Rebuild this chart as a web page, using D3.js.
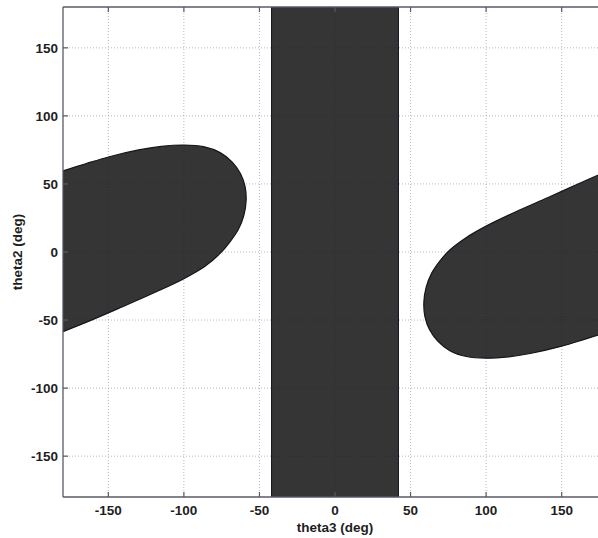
<!DOCTYPE html>
<html>
<head>
<meta charset="utf-8">
<script src="https://cdn.jsdelivr.net/npm/d3@7"></script>
<style>
  html, body { margin: 0; padding: 0; background: #fff; }
  svg { display: block; }
  text { font-family: "Liberation Sans", Arial, Helvetica, sans-serif; fill: #1e1e1e; }
</style>
</head>
<body>
<svg id="chart" width="598" height="538"></svg>
<script>
// ---- data ----
const xTicks = [-150, -100, -50, 0, 50, 100, 150];
const yTicks = [-150, -100, -50, 0, 50, 100, 150];
const xLabel = "theta3 (deg)";
const yLabel = "theta2 (deg)";

// vertical band (theta3 range, covers all theta2)
const bandTheta3 = [-42, 42];

// left region boundary (theta3, theta2)
const leftTheta3 = [-180, -165, -150, -130, -115, -100, -87, -76, -68, -62.5, -59.5, -58.8, -60.3, -64, -69.5, -76, -86, -100, -119, -141, -160, -180];
const leftTheta2 = [59.6, 64.8, 69.8, 75, 77.6, 78.6, 77.4, 73, 66, 57.5, 48, 38, 27, 16.5, 7.5, -1, -10.5, -19.6, -29.6, -40.4, -49.5, -58.5];

// right region boundary (theta3, theta2)
const rightTheta3 = [180, 160, 141, 119, 100, 86, 76, 69.5, 64, 60.3, 58.8, 59.5, 62.5, 68, 76, 87, 100, 115, 130, 150, 165, 180];
const rightTheta2 = [59.3, 49.6, 40, 29.2, 19, 10, 1.5, -6.5, -15.5, -26, -37, -47.5, -57, -65.5, -72.5, -76.8, -78, -77, -74.4, -69.2, -64.2, -59];

// ---- layout ----
const svg = d3.select("#chart");
const mLeft = 63, mTop = 7, plotW = 544, plotH = 490;
const x = d3.scaleLinear().domain([-180, 180]).range([mLeft, mLeft + plotW]);
const y = d3.scaleLinear().domain([-180, 180]).range([mTop + plotH, mTop]);

const fillCol = "#353535";
const edgeCol = "#15151f";

svg.append("defs").append("clipPath").attr("id", "clip")
  .append("rect").attr("x", mLeft).attr("y", mTop).attr("width", plotW).attr("height", plotH);

const g = svg.append("g").attr("clip-path", "url(#clip)");

// band
g.append("rect")
  .attr("x", x(bandTheta3[0]))
  .attr("y", mTop)
  .attr("width", x(bandTheta3[1]) - x(bandTheta3[0]))
  .attr("height", plotH)
  .attr("fill", fillCol)
  .attr("stroke", edgeCol)
  .attr("stroke-width", 1);

const line = d3.line().x(d => x(d[0])).y(d => y(d[1])).curve(d3.curveCatmullRom.alpha(0.5));

function region(xs, ys) {
  const pts = xs.map((v, i) => [v, ys[i]]);
  g.append("path")
    .attr("d", line(pts) + "Z")
    .attr("fill", fillCol)
    .attr("stroke", edgeCol)
    .attr("stroke-width", 1.2);
}
region(leftTheta3, leftTheta2);
region(rightTheta3, rightTheta2);

// grid (drawn on top, semi-transparent dotted)
const grid = svg.append("g").attr("clip-path", "url(#clip)");
xTicks.forEach(t => {
  grid.append("line")
    .attr("x1", x(t)).attr("x2", x(t)).attr("y1", mTop).attr("y2", mTop + plotH)
    .attr("stroke", "rgba(20,20,70,0.30)").attr("stroke-width", 1)
    .attr("stroke-dasharray", "1,2");
});
yTicks.forEach(t => {
  grid.append("line")
    .attr("x1", mLeft).attr("x2", mLeft + plotW).attr("y1", y(t)).attr("y2", y(t))
    .attr("stroke", "rgba(20,20,70,0.30)").attr("stroke-width", 1)
    .attr("stroke-dasharray", "1,2");
});

// frame
const frameCol = "#5a5a66";
svg.append("line").attr("x1", mLeft).attr("x2", mLeft + plotW).attr("y1", mTop).attr("y2", mTop).attr("stroke", frameCol).attr("stroke-width", 1.3);
svg.append("line").attr("x1", mLeft).attr("x2", mLeft + plotW).attr("y1", mTop + plotH).attr("y2", mTop + plotH).attr("stroke", frameCol).attr("stroke-width", 1.3);
svg.append("line").attr("x1", mLeft).attr("x2", mLeft).attr("y1", mTop).attr("y2", mTop + plotH).attr("stroke", frameCol).attr("stroke-width", 1.3);
svg.append("line").attr("x1", mLeft + plotW).attr("x2", mLeft + plotW).attr("y1", mTop).attr("y2", mTop + plotH).attr("stroke", frameCol).attr("stroke-width", 1.3);

// inward ticks
const tl = 5;
xTicks.forEach(t => {
  svg.append("line").attr("x1", x(t)).attr("x2", x(t)).attr("y1", mTop + plotH).attr("y2", mTop + plotH - tl).attr("stroke", frameCol).attr("stroke-width", 1.2);
  svg.append("line").attr("x1", x(t)).attr("x2", x(t)).attr("y1", mTop).attr("y2", mTop + tl).attr("stroke", frameCol).attr("stroke-width", 1.2);
});
yTicks.forEach(t => {
  svg.append("line").attr("x1", mLeft).attr("x2", mLeft + tl).attr("y1", y(t)).attr("y2", y(t)).attr("stroke", frameCol).attr("stroke-width", 1.2);
});

// tick labels
xTicks.forEach(t => {
  svg.append("text").attr("x", x(t)).attr("y", 515)
    .attr("text-anchor", "middle").attr("font-size", "13.5px").attr("font-weight", "bold")
    .text(t);
});
yTicks.forEach(t => {
  svg.append("text").attr("x", 58).attr("y", y(t)).attr("dy", "0.36em")
    .attr("text-anchor", "end").attr("font-size", "13.5px").attr("font-weight", "bold")
    .text(t);
});

// axis labels
svg.append("text").attr("x", x(0)).attr("y", 532)
  .attr("text-anchor", "middle").attr("font-size", "13.5px").attr("font-weight", "bold")
  .text(xLabel);
svg.append("text")
  .attr("transform", `translate(22, ${y(0)}) rotate(-90)`)
  .attr("text-anchor", "middle").attr("font-size", "13.5px").attr("font-weight", "bold")
  .text(yLabel);
</script>
</body>
</html>
